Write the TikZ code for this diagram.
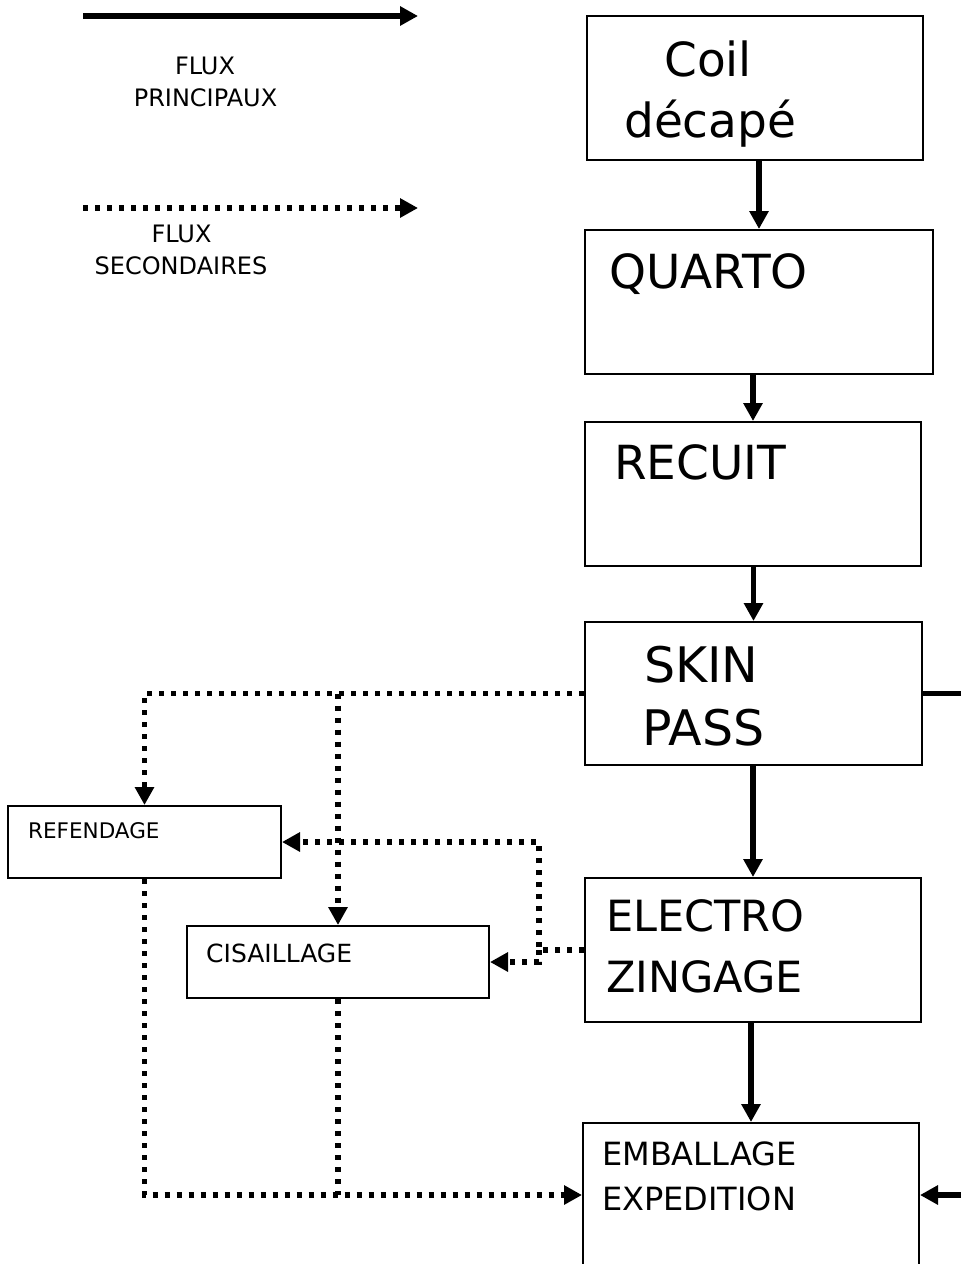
\documentclass[tikz,border=0pt]{standalone}
\usepackage{fontspec}
\setmainfont{DejaVu Sans}
\usetikzlibrary{arrows.meta}

\begin{document}
\begin{tikzpicture}[x=1pt, y=-1pt,
  box/.style={draw=black, line width=2pt, inner sep=0pt, fill=white},
  tip/.style={-{Triangle[length=18pt,width=18.5pt]}},
  mainflow/.style={line width=5.8pt, tip},
  subline/.style={line width=5.3pt, dash pattern=on 5.3pt off 6.7pt},
  subflow/.style={subline, tip},
  lbl/.style={inner sep=0pt, anchor=base west},
  ctr/.style={inner sep=0pt, anchor=base},
  fsBig/.style={font=\fontsize{47}{56}\selectfont},
  fsSkin/.style={font=\fontsize{49}{58}\selectfont},
  fsZinc/.style={font=\fontsize{43}{52}\selectfont},
  fsPack/.style={font=\fontsize{32}{38}\selectfont},
  fsLeg/.style={font=\fontsize{24}{29}\selectfont},
  fsRef/.style={font=\fontsize{21.5}{26}\selectfont},
  fsCis/.style={font=\fontsize{25}{30}\selectfont}]

\useasboundingbox (0,0) rectangle (961,1264);
\clip (0,0) rectangle (961,1264);

% legend
\coordinate (p0) at (83,16);
\coordinate (p1) at (418,16);
\draw[mainflow] (p0) -- (p1);
\node[ctr, fsLeg] (legA1) at (205,74) {FLUX};
\node[ctr, fsLeg] (legA2) at (205.5,106) {PRINCIPAUX};

\coordinate (s0) at (83,208);
\coordinate (s1) at (418,208);
\draw[subflow] (s0) -- (s1);
\node[ctr, fsLeg] (legB1) at (181.5,242) {FLUX};
\node[ctr, fsLeg] (legB2) at (181,274) {SECONDAIRES};

% main line boxes
\node[box, minimum width=336pt, minimum height=144pt] (coil)    at (755,88)    {};
\node[box, minimum width=348pt, minimum height=144pt] (quarto)  at (759,302)   {};
\node[box, minimum width=336pt, minimum height=144pt] (recuit)  at (753,494)   {};
\node[box, minimum width=337pt, minimum height=143pt] (skin)    at (753.5,693.5) {};
\node[box, minimum width=336pt, minimum height=144pt] (electro) at (753,950)   {};
\node[box, minimum width=336pt, minimum height=144pt] (emb)     at (751,1195)  {};

% side processes
\node[box, minimum width=273pt, minimum height=72pt] (refendage)  at (144.5,842) {};
\node[box, minimum width=302pt, minimum height=72pt] (cisaillage) at (338,962)   {};

% box texts
\node[lbl, fsBig] (coilA) at (664,76)  {Coil};
\node[lbl, fsBig] (coilB) at (624,137) {décapé};
\node[lbl, fsBig] (quartoA) at (609,288) {QUARTO};
\node[lbl, fsBig] (recuitA) at (614,479) {RECUIT};
\node[lbl, fsSkin] (skinA) at (644,682) {SKIN};
\node[lbl, fsSkin] (skinB) at (642,745) {PASS};
\node[lbl, fsZinc] (elecA) at (606,931) {ELECTRO};
\node[lbl, fsZinc] (elecB) at (606,992) {ZINGAGE};
\node[lbl, fsPack] (embA) at (602,1165) {EMBALLAGE};
\node[lbl, fsPack] (embB) at (602,1210) {EXPEDITION};
\node[lbl, fsRef] (refA) at (28,838) {REFENDAGE};
\node[lbl, fsCis] (cisA) at (206,962) {CISAILLAGE};

% main flows
\draw[mainflow] (coil.south -| quarto.north) -- (quarto.north);
\draw[mainflow] (quarto.south -| recuit.north) -- (recuit.north);
\draw[mainflow] (recuit.south -| skin.north) -- (skin.north);
\draw[mainflow] (skin.south -| electro.north) -- (electro.north);
\draw[mainflow] (electro.south -| emb.north) -- (emb.north);

\coordinate (rail) at (1000,0);
\draw[mainflow] (skin.east) -- (skin.east -| rail) -- (emb.east -| rail) -- (emb.east);

% secondary flows
\draw[subflow] (skin.west) -- (skin.west -| refendage.north) -- (refendage.north);
\draw[subflow] (skin.west -| cisaillage.north) -- (cisaillage.north);

\coordinate (split) at (539,0);
\draw[subflow] (electro.west) -- (electro.west -| split) -- (refendage.east -| split) -- (refendage.east);
\draw[subflow] (electro.west -| split) -- (cisaillage.east -| split) -- (cisaillage.east);

\draw[subflow] (refendage.south) -- (refendage.south |- emb.west) -- (emb.west);
\draw[subline] (cisaillage.south) -- (cisaillage.south |- emb.west);
\end{tikzpicture}
\end{document}
